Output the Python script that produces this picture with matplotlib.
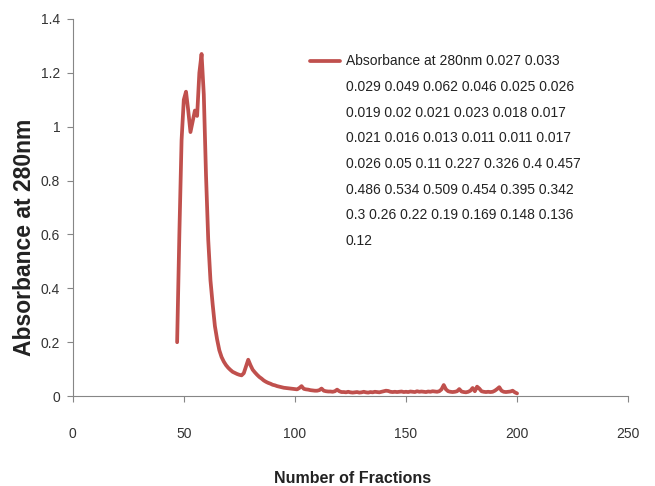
import matplotlib
matplotlib.use("Agg")
import matplotlib.pyplot as plt
from matplotlib.legend_handler import HandlerLine2D
from matplotlib.lines import Line2D
import numpy as np

fractions = list(range(47, 201))
absorbance = [
    0.20, 0.60, 0.95, 1.10, 1.13, 1.06, 0.98, 1.02, 1.06, 1.04,   # 47-56
    1.20, 1.27, 1.12, 0.82, 0.58, 0.43, 0.34, 0.26, 0.21, 0.17,   # 57-66
    0.145, 0.128, 0.115, 0.105, 0.097, 0.090, 0.086, 0.082, 0.079, 0.077,  # 67-76
    0.085, 0.110, 0.135, 0.115, 0.098, 0.088, 0.079, 0.071, 0.065, 0.058,  # 77-86
    0.053, 0.049, 0.046, 0.042, 0.040, 0.037, 0.035, 0.033, 0.031, 0.030,  # 87-96
    0.029, 0.028, 0.027, 0.026, 0.025, 0.030, 0.037, 0.027, 0.025, 0.024,  # 97-106
    0.022, 0.021, 0.020, 0.020, 0.022, 0.028, 0.020, 0.018, 0.017, 0.017,  # 107-116
    0.016, 0.018, 0.024, 0.018, 0.015, 0.015, 0.014, 0.016, 0.014, 0.013,  # 117-126
    0.014, 0.015, 0.013, 0.014, 0.016, 0.014, 0.013, 0.015, 0.014, 0.016,  # 127-136
    0.015, 0.014, 0.016, 0.018, 0.020, 0.019, 0.016, 0.015, 0.016, 0.015,  # 137-146
    0.016, 0.017, 0.015, 0.016, 0.015, 0.017, 0.016, 0.015, 0.018, 0.016,  # 147-156
    0.017, 0.016, 0.015, 0.017, 0.016, 0.018, 0.017, 0.016, 0.018, 0.025,  # 157-166
    0.041, 0.025, 0.018, 0.016, 0.015, 0.016, 0.018, 0.026, 0.017, 0.015,  # 167-176
    0.014, 0.016, 0.020, 0.030, 0.018, 0.035, 0.028, 0.018, 0.016, 0.015,  # 177-186
    0.016, 0.015, 0.016, 0.020, 0.026, 0.033, 0.020, 0.016, 0.015, 0.016,  # 187-196
    0.017, 0.020, 0.014, 0.010,                                            # 197-200
]

series_label_lines = [
    "Absorbance at 280nm 0.027 0.033",
    "0.029 0.049 0.062 0.046 0.025 0.026",
    "0.019 0.02 0.021 0.023 0.018 0.017",
    "0.021 0.016 0.013 0.011 0.011 0.017",
    "0.026 0.05 0.11 0.227 0.326 0.4 0.457",
    "0.486 0.534 0.509 0.454 0.395 0.342",
    "0.3 0.26 0.22 0.19 0.169 0.148 0.136",
    "0.12",
]

x_ticks = [0, 50, 100, 150, 200, 250]
y_ticks = [0, 0.2, 0.4, 0.6, 0.8, 1.0, 1.2, 1.4]
y_tick_labels = ["0", "0.2", "0.4", "0.6", "0.8", "1", "1.2", "1.4"]

plt.rcParams['font.family'] = ['Liberation Sans', 'DejaVu Sans']

LEG_FONT = 10
LEG_LINESPACING = 2.06


class TopLineHandler(HandlerLine2D):
    """Place the legend line next to the first line of a multi-line label."""
    def __init__(self, shift_pts, **kw):
        super().__init__(**kw)
        self.shift_pts = shift_pts

    def create_artists(self, legend, orig_handle, xdescent, ydescent,
                       width, height, fontsize, trans):
        arts = super().create_artists(legend, orig_handle, xdescent, ydescent,
                                      width, height, fontsize, trans)
        for a in arts:
            if isinstance(a, Line2D):
                a.set_ydata(np.asarray(a.get_ydata()) + self.shift_pts)
        return arts


fig = plt.figure(figsize=(6.55, 4.86), dpi=100)
ax = fig.add_axes([0.111, 0.185, 0.848, 0.776])

line, = ax.plot(fractions, absorbance, color="#C0504D", linewidth=2.7,
                solid_joinstyle="round", solid_capstyle="round",
                label="\n".join(series_label_lines))

ax.set_xlim(0, 250)
ax.set_ylim(0, 1.4)
ax.set_xticks(x_ticks)
ax.set_yticks(y_ticks)
ax.set_yticklabels(y_tick_labels)

for s in ["top", "right"]:
    ax.spines[s].set_visible(False)
for s in ["left", "bottom"]:
    ax.spines[s].set_color("#868686")
    ax.spines[s].set_linewidth(0.8)
ax.tick_params(axis="both", colors="#868686", length=4, width=0.8,
               labelsize=10, labelcolor="#333333")
ax.tick_params(axis="y", pad=5)
ax.tick_params(axis="x", pad=18)

ax.set_xlabel("Number of Fractions", fontsize=11.5, fontweight="bold",
              color="#222222")
ax.xaxis.set_label_coords(0.503, -0.198)
ax.set_ylabel("Absorbance at 280nm", fontsize=16.5, fontweight="bold",
              color="#222222")
ax.yaxis.set_label_coords(-0.066, 0.42)

n_lines = len(series_label_lines)
line_step_pts = 26 * 0.72
shift = (n_lines - 1) / 2 * line_step_pts

leg = ax.legend(handles=[line], loc="upper left",
                bbox_to_anchor=(0.427, 0.906), frameon=False,
                fontsize=LEG_FONT, handlelength=2.15, handletextpad=0.45,
                borderpad=0, borderaxespad=0,
                handler_map={line: TopLineHandler(shift)})
for t in leg.get_texts():
    t.set_linespacing(LEG_LINESPACING)
    t.set_color("#222222")

fig.savefig("out.png", dpi=100)
